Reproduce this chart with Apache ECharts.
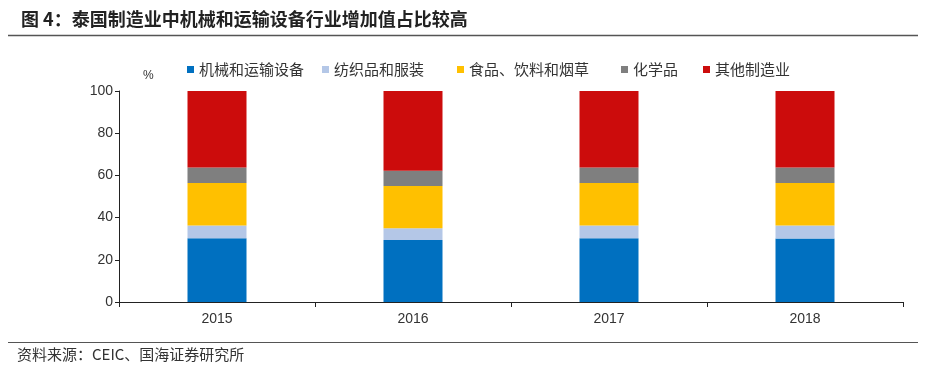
<!DOCTYPE html>
<html>
<head>
<meta charset="utf-8">
<script src="https://cdn.jsdelivr.net/npm/echarts@6/dist/echarts.min.js"></script>
<style>
  html, body { margin: 0; padding: 0; background: #fff; }
  #chart { width: 926px; height: 378px; }
</style>
</head>
<body>
<div id="chart"></div>
<script>
// data, %
const years = ["2015", "2016", "2017", "2018"];
const machinery = [30.2, 29.4, 30.2, 30.1];
const textiles = [6.0, 5.5, 6.0, 6.1];
const food = [20.2, 20.1, 20.2, 20.2];
const chemicals = [7.4, 7.2, 7.4, 7.4];
const other = [36.2, 37.8, 36.2, 36.2];
const yTicks = [0, 20, 40, 60, 80, 100];

const seriesNames = ["机械和运输设备", "纺织品和服装", "食品、饮料和烟草", "化学品", "其他制造业"];
const seriesData = [machinery, textiles, food, chemicals, other];
const colors = ["#0070C0", "#B4C7E7", "#FFC000", "#7F7F7F", "#CC0C0C"];
// legend entries sit in their own slots like the original
const legendLeft = [187, 322, 457, 621, 703];

const cjk = '"Noto Sans CJK SC", sans-serif';
const chart = echarts.init(document.getElementById("chart"));

chart.setOption({
    animation: false,
    title: {
        text: "图 4：泰国制造业中机械和运输设备行业增加值占比较高",
        left: 16,
        top: 5,
        textStyle: { fontFamily: cjk, fontSize: 18, fontWeight: "bold", color: "#222" },
    },
    legend: seriesNames.map((name, i) => ({
        data: [name],
        left: legendLeft[i],
        top: 62,
        padding: 0,
        itemWidth: 7,
        itemHeight: 7,
        icon: "rect",
        textStyle: { fontFamily: cjk, fontSize: 15, color: "#333" },
    })),
    grid: { left: 119, right: 23, top: 91, bottom: 76 },
    xAxis: {
        type: "category",
        data: years,
        axisLine: { lineStyle: { color: "#222", width: 1 } },
        axisTick: { show: true, length: 5, lineStyle: { color: "#222" } },
        axisLabel: { fontFamily: "Liberation Sans, Arial", fontSize: 14, color: "#333", margin: 10 },
    },
    yAxis: {
        type: "value",
        min: yTicks[0],
        max: yTicks[yTicks.length - 1],
        interval: yTicks[1] - yTicks[0],
        splitLine: { show: false },
        axisLine: { show: true, lineStyle: { color: "#222", width: 1 } },
        axisTick: { show: true, length: 4, lineStyle: { color: "#222" } },
        axisLabel: { fontFamily: "Liberation Sans, Arial", fontSize: 14, color: "#333", margin: 6 },
    },
    series: seriesNames.map((name, i) => ({
        name: name,
        type: "bar",
        stack: "total",
        barWidth: 59,
        data: seriesData[i],
        itemStyle: { color: colors[i] },
    })),
    graphic: [
        { type: "line", shape: { x1: 8, y1: 35.5, x2: 918, y2: 35.5 }, style: { stroke: "#555", lineWidth: 1.5 } },
        { type: "line", shape: { x1: 8, y1: 342.5, x2: 918, y2: 342.5 }, style: { stroke: "#555", lineWidth: 1 } },
        { type: "text", left: 143, top: 70, style: { text: "%", fontFamily: "Liberation Sans", fontSize: 12, fill: "#333" } },
        { type: "text", left: 17, top: 347, style: { text: "资料来源：CEIC、国海证券研究所", fontFamily: cjk, fontSize: 15, fill: "#333" } },
    ],
});
</script>
</body>
</html>
